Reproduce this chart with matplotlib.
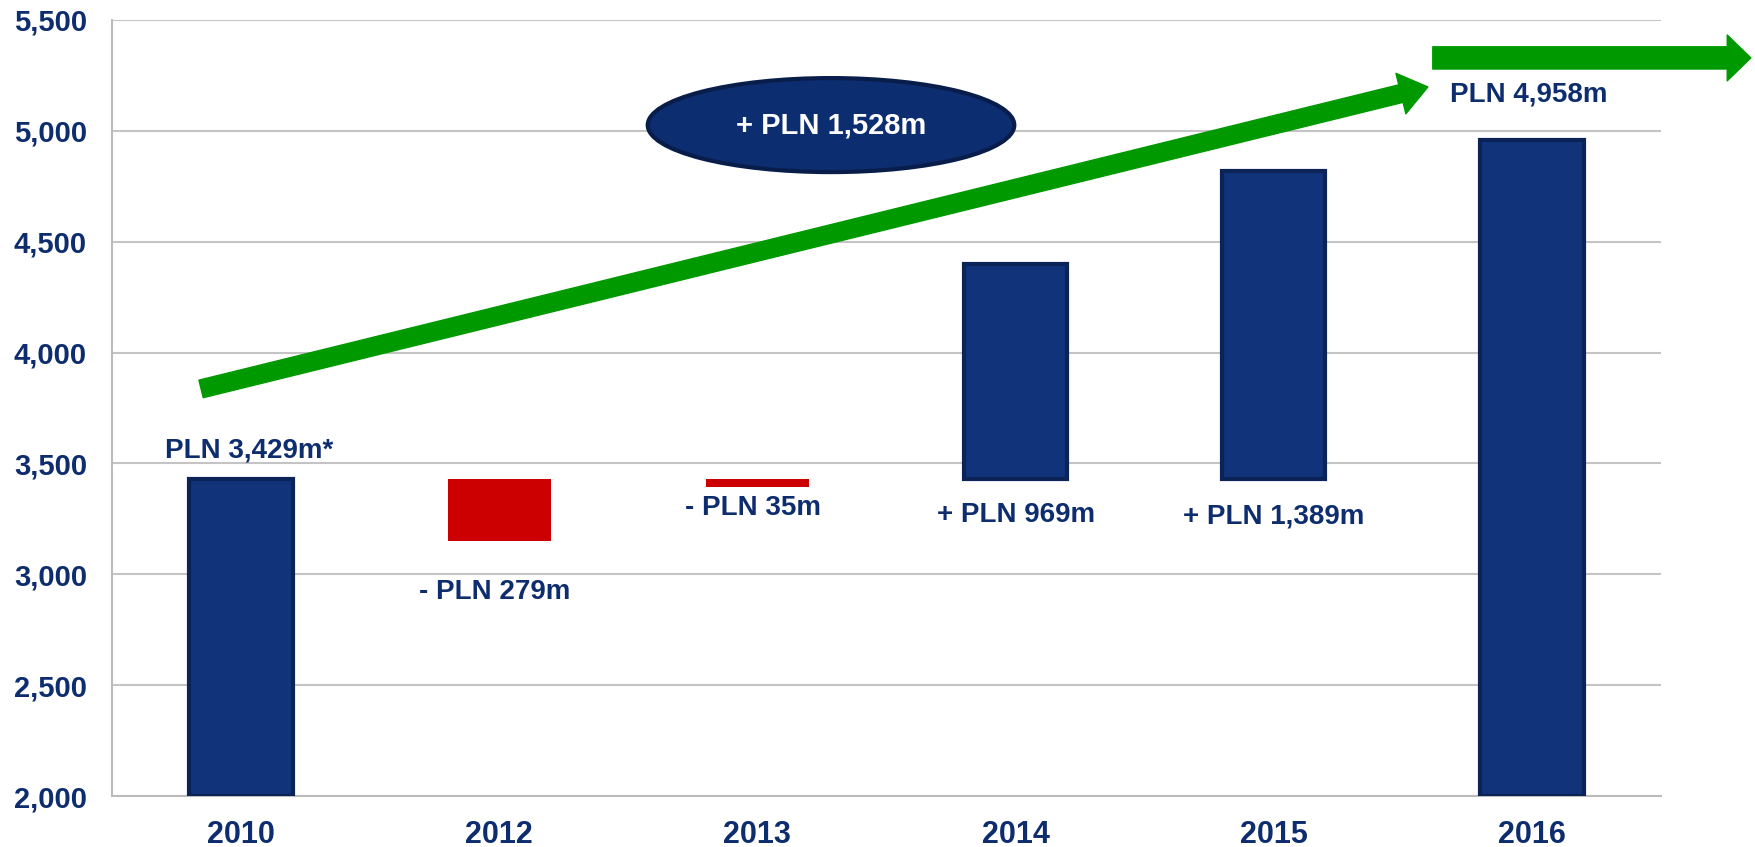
import numpy as np
import matplotlib.pyplot as plt
from matplotlib.patches import FancyArrowPatch, Ellipse

plt.rcParams['font.family'] = ['Liberation Sans', 'DejaVu Sans']
plt.rcParams['font.weight'] = 'bold'

years = ['2010', '2012', '2013', '2014', '2015', '2016']
base = 3429
bottoms = [2000, 3150, 3394, 3429, 3429, 2000]
tops = [3429, 3429, 3429, 4398, 4818, 4958]
kinds = ['total', 'down', 'down', 'up', 'up', 'total']
labels = ['PLN 3,429m*', '- PLN 279m', '- PLN 35m', '+ PLN 969m', '+ PLN 1,389m', 'PLN 4,958m']
total_change = '+ PLN 1,528m'

navy = '#10337A'
navy_edge = '#0B2357'
red = '#CC0000'
green = '#009900'
text_col = '#0E2D6E'

fig = plt.figure(figsize=(17.56, 8.47), dpi=100)
ax = fig.add_axes([0.0638, 0.0602, 0.8821, 0.9162])

x = np.arange(len(years))
heights = np.array(tops) - np.array(bottoms)
for i in range(len(years)):
    if kinds[i] == 'down':
        ax.bar(x[i], heights[i], bottom=bottoms[i], width=0.40, color=red, zorder=3)
    else:
        ax.bar(x[i], heights[i], bottom=bottoms[i], width=0.40, color=navy,
               edgecolor=navy_edge, linewidth=3, zorder=3)

ax.set_xlim(-0.5, 5.5)
ax.set_ylim(2000, 5500)
ax.set_yticks(np.arange(2000, 5501, 500))
ax.yaxis.set_major_formatter(plt.FuncFormatter(lambda v, p: '{:,.0f}'.format(v)))
ax.set_xticks(x)
ax.set_xticklabels(years)
ax.tick_params(axis='x', length=0, labelsize=22, labelcolor=text_col, pad=17)
ax.tick_params(axis='y', length=0, labelsize=21, labelcolor=text_col, pad=18)
ax.grid(axis='y', color='#C4C4C4', linewidth=1.5, zorder=0)
for s in ['top', 'right']:
    ax.spines[s].set_visible(False)
for s in ['left', 'bottom']:
    ax.spines[s].set_color('#BBBBBB')
    ax.spines[s].set_linewidth(1.5)

# value labels, offsets in points
ax.annotate(labels[0], (x[0], tops[0]), xytext=(6, 21), textcoords='offset points',
            ha='center', va='center', fontsize=20, color=text_col)
for i, off in zip([1, 2], [-37, -15]):
    ax.annotate(labels[i], (x[i], bottoms[i]), xytext=(-3, off), textcoords='offset points',
                ha='center', va='center', fontsize=20, color=text_col)
for i, off in zip([3, 4], [-26, -27]):
    ax.annotate(labels[i], (x[i], base), xytext=(0, off), textcoords='offset points',
                ha='center', va='center', fontsize=20, color=text_col)
ax.annotate(labels[5], (x[5], tops[5]), xytext=(-2, 33), textcoords='offset points',
            ha='center', va='center', fontsize=20, color=text_col)

# green trend arrows
a1 = FancyArrowPatch((-0.155, 3836), (4.597, 5198), arrowstyle='simple,head_length=2.0,head_width=3.0,tail_width=1.3',
                     mutation_scale=10, color=green, shrinkA=0, shrinkB=0, zorder=4, clip_on=False)
ax.add_patch(a1)
a2 = FancyArrowPatch((4.616, 5329), (5.848, 5329), arrowstyle='simple,head_length=1.7,head_width=3.3,tail_width=1.6',
                     mutation_scale=10, color=green, shrinkA=0, shrinkB=0, zorder=4, clip_on=False)
ax.add_patch(a2)

# total change bubble
ell = Ellipse((2.285, 5026), 1.42, 424, facecolor='#0C2D70', edgecolor='#081D4A', linewidth=3, zorder=5)
ax.add_patch(ell)
ax.text(2.285, 5026, total_change, ha='center', va='center', fontsize=21, color='white', zorder=6)

fig.savefig('out.png', dpi=100)
